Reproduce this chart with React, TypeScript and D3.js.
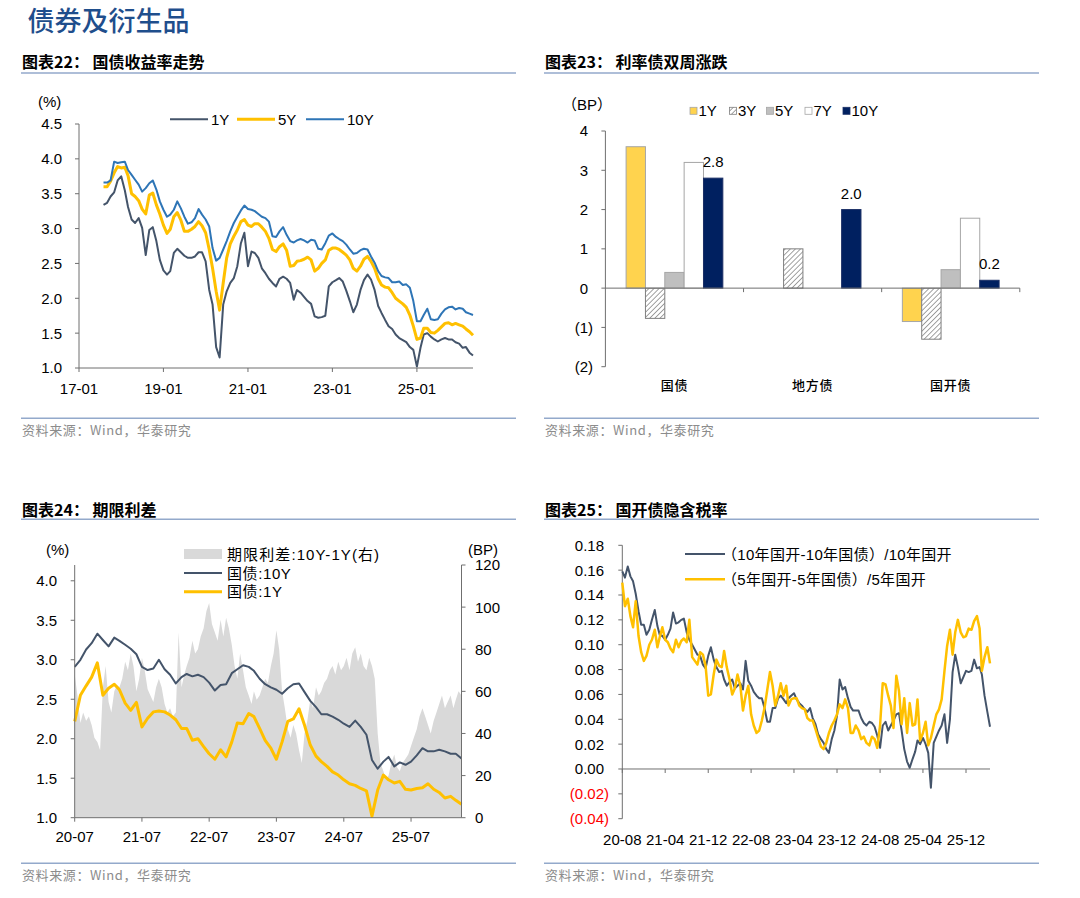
import React, { useEffect } from "react";
import * as d3 from "d3";

// ---------- 图表22：国债收益率走势（月度，自 2017-08 起）
const yieldAxisStart = "2017-01-01";
const yieldStart = "2017-08-01";
const yieldTicks = ["2017-01-01", "2019-01-01", "2021-01-01", "2023-01-01", "2025-01-01"];
const cgb1Y = [
  3.34, 3.37, 3.46, 3.52, 3.69,
  3.75, 3.55, 3.31, 3.13, 3.08, 3.15, 3.01, 2.62, 2.98, 3.02, 2.82, 2.55,
  2.40, 2.34, 2.39, 2.65, 2.71, 2.66, 2.61, 2.58, 2.58, 2.60, 2.66, 2.66,
  2.53, 2.12, 1.91, 1.30, 1.15, 1.91, 2.10, 2.22, 2.29, 2.46, 2.79, 2.94,
  2.46, 2.67, 2.65, 2.58, 2.43, 2.36, 2.28, 2.22, 2.17, 2.28, 2.31, 2.28,
  2.22, 1.98, 2.12, 2.08, 2.02, 1.96, 1.92, 1.74, 1.72, 1.73, 1.75, 2.17,
  2.23, 2.26, 2.29, 2.24, 2.11, 1.96, 1.80, 1.91, 2.12, 2.26, 2.34, 2.27,
  2.12, 1.89, 1.79, 1.69, 1.60, 1.56, 1.48, 1.43, 1.40, 1.37, 1.30, 1.26,
  1.02, 1.29, 1.48, 1.50, 1.45, 1.41, 1.38, 1.41, 1.43, 1.41, 1.41, 1.37,
  1.35, 1.29, 1.30, 1.22, 1.18,
];
const cgb5Y = [
  3.60, 3.60, 3.68, 3.80, 3.89,
  3.87, 3.88, 3.76, 3.50, 3.46, 3.40, 3.28, 3.21, 3.48, 3.51, 3.34, 3.21,
  3.05, 2.93, 2.99, 3.17, 3.23, 3.12, 2.96, 2.96, 2.99, 3.03, 3.10, 3.04,
  2.94, 2.70, 2.43, 2.10, 1.83, 2.22, 2.58, 2.78, 2.89, 2.98, 3.10, 3.13,
  3.05, 3.03, 3.07, 3.07, 3.02, 2.96, 2.86, 2.70, 2.67, 2.74, 2.78, 2.69,
  2.46, 2.47, 2.53, 2.54, 2.56, 2.59, 2.55, 2.39, 2.43, 2.50, 2.55, 2.69,
  2.72, 2.72, 2.70, 2.66, 2.62, 2.55, 2.43, 2.39, 2.46, 2.56, 2.60, 2.53,
  2.43, 2.28, 2.19, 2.16, 2.15, 2.08, 2.00, 1.96, 1.92, 1.87, 1.76, 1.60,
  1.41, 1.43, 1.57, 1.57, 1.51, 1.50, 1.54, 1.59, 1.64, 1.65, 1.62, 1.64,
  1.62, 1.60, 1.56, 1.52, 1.47,
];
const cgb10Y = [
  3.66, 3.66, 3.69, 3.96, 3.94,
  3.95, 3.96, 3.84, 3.77, 3.70, 3.63, 3.53, 3.58, 3.65, 3.69, 3.56, 3.39,
  3.27, 3.17, 3.20, 3.27, 3.39, 3.29, 3.17, 3.07, 3.09, 3.15, 3.28, 3.20,
  3.13, 3.03, 2.72, 2.54, 2.58, 2.70, 2.82, 2.96, 3.08, 3.17, 3.26, 3.33,
  3.28, 3.27, 3.25, 3.21, 3.17, 3.15, 3.10, 2.89, 2.88, 2.96, 3.02, 2.91,
  2.82, 2.80, 2.83, 2.85, 2.83, 2.80, 2.84, 2.83, 2.71, 2.70, 2.79, 2.90,
  2.93, 2.88, 2.85, 2.82, 2.77, 2.70, 2.64, 2.65, 2.69, 2.71, 2.70, 2.60,
  2.51, 2.39, 2.32, 2.30, 2.29, 2.23, 2.23, 2.24, 2.19, 2.20, 2.15, 1.96,
  1.67, 1.67, 1.76, 1.85, 1.70, 1.69, 1.70, 1.78, 1.84, 1.87, 1.88, 1.84,
  1.86, 1.85, 1.80, 1.78, 1.76,
];

// ---------- 图表23：利率债双周涨跌（BP）
const bondTypes = ["国债", "地方债", "国开债"];
const tenors = ["1Y", "3Y", "5Y", "7Y", "10Y"];
const chg1Y = [3.6, null, -0.85];
const chg3Y = [-0.77, 1.0, -1.3];
const chg5Y = [0.4, null, 0.47];
const chg7Y = [3.2, null, 1.78];
const chg10Y = [2.8, 2.0, 0.2];

// ---------- 图表24：期限利差（线为月度，利差为半月度，自 2020-07 起）
const spreadStart = "2020-07-01";
const spreadTicks = ["2020-07-01", "2021-07-01", "2022-07-01", "2023-07-01", "2024-07-01", "2025-07-01"];
const term10Y = [
  2.91, 3.00, 3.13, 3.21, 3.33, 3.25,
  3.17, 3.28, 3.24, 3.19, 3.14, 3.07, 2.91, 2.87, 2.89, 3.00, 2.88, 2.81,
  2.70, 2.78, 2.82, 2.79, 2.81, 2.78, 2.71, 2.61, 2.68, 2.69, 2.83, 2.88,
  2.93, 2.91, 2.86, 2.76, 2.69, 2.65, 2.62, 2.57, 2.64, 2.69, 2.70, 2.59,
  2.48, 2.40, 2.31, 2.31, 2.28, 2.24, 2.19, 2.15, 2.23, 2.15, 2.05, 1.73,
  1.62, 1.71, 1.77, 1.65, 1.70, 1.67, 1.71, 1.79, 1.88, 1.84, 1.84, 1.86,
  1.84, 1.81, 1.81, 1.75,
];
const term1Y = [
  2.22, 2.55, 2.67, 2.78, 2.96, 2.55,
  2.64, 2.69, 2.62, 2.45, 2.36, 2.46, 2.15, 2.26, 2.34, 2.35, 2.34, 2.30,
  2.24, 2.13, 2.13, 1.98, 2.00, 1.90, 1.81, 1.74, 1.86, 1.77, 1.96, 2.20,
  2.19, 2.32, 2.28, 2.13, 1.98, 1.88, 1.74, 1.96, 2.22, 2.25, 2.38, 2.17,
  1.92, 1.78, 1.71, 1.65, 1.58, 1.54, 1.48, 1.43, 1.41, 1.37, 1.34, 1.02,
  1.35, 1.54, 1.48, 1.44, 1.46, 1.36, 1.35, 1.37, 1.38, 1.43, 1.36, 1.32,
  1.25, 1.27, 1.22, 1.17,
];
const termSpreadBP = [
  68, 58, 45, 50, 46, 48, 44, 38, 36, 32, 62, 72,
  55, 50, 60, 63, 62, 66, 74, 70, 78, 72, 60, 66, 76, 70, 61, 58, 55, 62, 66, 62, 54, 50, 52, 48,
  50, 88, 62, 68, 72, 76, 84, 78, 80, 86, 90, 98, 102, 92, 88, 84, 94, 86, 95, 90, 82, 72, 66, 78,
  70, 62, 58, 54, 60, 56, 58, 62, 66, 64, 72, 78, 89, 80, 60, 52, 42, 38, 44, 40, 32, 26, 40, 46,
  56, 52, 62, 58, 60, 64, 66, 70, 72, 68, 74, 70, 72, 76, 70, 78, 81, 74, 78, 72, 70, 76, 72, 66,
  40, 26, 22, 18, 20, 26, 30, 24, 22, 26, 28, 30, 34, 38, 42, 48, 52, 48, 44, 40, 46, 50, 54, 58,
  52, 55, 58, 52, 56, 60, 58,
];

// ---------- 图表25：国开债隐含税率（半月度，自 2020-08 起）
const taxStart = "2020-08-01";
const taxTicks = ["2020-08-01", "2021-04-01", "2021-12-01", "2022-08-01", "2023-04-01", "2023-12-01", "2024-08-01", "2025-04-01", "2025-12-01"];
const taxRate10Y = [
  0.159, 0.154, 0.163, 0.155, 0.151, 0.141, 0.127, 0.116, 0.116, 0.108,
  0.112, 0.120, 0.128, 0.115, 0.108, 0.107, 0.104, 0.108, 0.113, 0.126,
  0.117, 0.118, 0.120, 0.121, 0.110, 0.104, 0.100, 0.096, 0.092, 0.091,
  0.084, 0.081, 0.091, 0.098, 0.088, 0.082, 0.078, 0.079, 0.072, 0.067,
  0.070, 0.072, 0.065, 0.067, 0.069, 0.064, 0.087, 0.071, 0.067, 0.062,
  0.059, 0.057, 0.057, 0.049, 0.038, 0.038, 0.049, 0.049, 0.057, 0.059,
  0.056, 0.053, 0.057, 0.059, 0.061, 0.056, 0.053, 0.051, 0.048, 0.046,
  0.049, 0.041, 0.036, 0.028, 0.024, 0.021, 0.016, 0.013, 0.024, 0.031,
  0.043, 0.072, 0.064, 0.066, 0.057, 0.050, 0.047, 0.047, 0.047, 0.041,
  0.037, 0.035, 0.038, 0.037, 0.034, 0.027, 0.017, 0.035, 0.038, 0.031,
  0.035, 0.039, 0.044, 0.045, 0.031, 0.016, 0.006, 0.001, 0.008, 0.014,
  0.023, 0.020, 0.025, 0.020, 0.013, -0.015, 0.021, 0.026, 0.031, 0.035,
  0.044, 0.021, 0.040, 0.078, 0.092, 0.082, 0.069, 0.074, 0.079, 0.078,
  0.079, 0.088, 0.081, 0.082, 0.076, 0.059, 0.046, 0.034,
];
const taxRate5Y = [
  0.150, 0.131, 0.137, 0.123, 0.114, 0.135, 0.107, 0.094, 0.087, 0.091,
  0.100, 0.104, 0.112, 0.098, 0.106, 0.114, 0.104, 0.102, 0.097, 0.094,
  0.104, 0.098, 0.103, 0.105, 0.102, 0.120, 0.090, 0.087, 0.084, 0.094,
  0.092, 0.083, 0.059, 0.060, 0.076, 0.088, 0.083, 0.082, 0.095, 0.082,
  0.072, 0.060, 0.065, 0.076, 0.067, 0.047, 0.059, 0.067, 0.044, 0.035,
  0.029, 0.031, 0.039, 0.049, 0.064, 0.078, 0.067, 0.051, 0.059, 0.069,
  0.059, 0.067, 0.051, 0.056, 0.057, 0.057, 0.051, 0.049, 0.048, 0.041,
  0.039, 0.039, 0.032, 0.025, 0.018, 0.016, 0.021, 0.029, 0.035, 0.039,
  0.044, 0.052, 0.049, 0.056, 0.049, 0.029, 0.029, 0.035, 0.031, 0.024,
  0.026, 0.021, 0.019, 0.026, 0.024, 0.017, 0.035, 0.069, 0.068, 0.059,
  0.051, 0.033, 0.075, 0.063, 0.036, 0.057, 0.029, 0.053, 0.035, 0.036,
  0.056, 0.023, 0.029, 0.038, 0.019, 0.025, 0.035, 0.044, 0.048, 0.056,
  0.079, 0.099, 0.112, 0.092, 0.110, 0.120, 0.110, 0.106, 0.107, 0.113,
  0.112, 0.119, 0.123, 0.113, 0.079, 0.090, 0.098, 0.085,
];

const SANS = "'Liberation Sans', Arial, 'Noto Sans CJK SC', sans-serif";
const CJK = "'Noto Sans CJK SC', 'Liberation Sans', sans-serif";
const AXIS = "#6f6f6f";
const SLATE = "#44546A";
const GOLD = "#FFC000";
const RULE = "#93A9CB";

const parse = d3.timeParse("%Y-%m-%d");
const monthly = (start: string, n: number) =>
  d3.range(n).map((i) => d3.timeMonth.offset(parse(start)!, i));
const halfMonthly = (start: string, n: number) =>
  d3.range(n).map((i) => {
    const m = d3.timeMonth.offset(parse(start)!, Math.floor(i / 2));
    return i % 2 ? d3.timeDay.offset(m, 15) : m;
  });
const fmtMonth = d3.timeFormat("%y-%m");
const paren = (v: number, digits: number) =>
  v < 0 ? `(${Math.abs(v).toFixed(digits)})` : v.toFixed(digits);

function Panel({ x0, x1, titleY, ruleY, srcRuleY, srcY, title }: any) {
  return (
    <g>
      <text x={x0 + 1} y={titleY} fontFamily={CJK} fontWeight={700} fontSize={16}>
        {title}
      </text>
      <line x1={x0} x2={x1} y1={ruleY} y2={ruleY} stroke={RULE} strokeWidth={1.6} />
      <line x1={x0} x2={x1} y1={srcRuleY} y2={srcRuleY} stroke={RULE} strokeWidth={1.6} />
      <text x={x0 + 1} y={srcY} fontFamily={CJK} fontSize={13} fill="#8c8c8c" letterSpacing={0.6}>
        资料来源：Wind，华泰研究
      </text>
    </g>
  );
}

function YieldTrend() {
  const dates = monthly(yieldStart, cgb10Y.length);
  const x = d3.scaleTime().domain([parse(yieldAxisStart)!, dates[dates.length - 1]]).range([79, 473]);
  const y = d3.scaleLinear().domain([1, 4.5]).range([368, 124]);
  const path = (vals: number[]) =>
    d3.line<number>().x((_, i) => x(dates[i])).y((v) => y(v))(vals) || "";
  const legend = [
    { name: "1Y", color: SLATE, w: 2, x: 170 },
    { name: "5Y", color: GOLD, w: 3, x: 237 },
    { name: "10Y", color: "#2E75B6", w: 2, x: 306 },
  ];
  return (
    <g fontFamily={SANS} fontSize={15}>
      <text x={38} y={107}>(%)</text>
      {legend.map((l) => (
        <g key={l.name}>
          <line x1={l.x} x2={l.x + 38} y1={119.3} y2={119.3} stroke={l.color} strokeWidth={l.w} />
          <text x={l.x + 41} y={124.7}>{l.name}</text>
        </g>
      ))}
      <line x1={79} x2={79} y1={124} y2={368} stroke={AXIS} />
      <line x1={79} x2={473} y1={368} y2={368} stroke={AXIS} />
      {y.ticks(7).map((t) => (
        <g key={t}>
          <line x1={75} x2={79} y1={y(t)} y2={y(t)} stroke={AXIS} />
          <text x={62} y={y(t) + 5.4} textAnchor="end">{t.toFixed(1)}</text>
        </g>
      ))}
      {yieldTicks.map((s) => {
        const d = parse(s)!;
        return (
          <g key={s}>
            <line x1={x(d)} x2={x(d)} y1={368} y2={372} stroke={AXIS} />
            <text x={x(d)} y={393.5} textAnchor="middle">{fmtMonth(d)}</text>
          </g>
        );
      })}
      <path d={path(cgb1Y)} fill="none" stroke={SLATE} strokeWidth={2} strokeLinejoin="round" />
      <path d={path(cgb5Y)} fill="none" stroke={GOLD} strokeWidth={3} strokeLinejoin="round" />
      <path d={path(cgb10Y)} fill="none" stroke="#2E75B6" strokeWidth={2} strokeLinejoin="round" />
    </g>
  );
}

function BiweeklyChange() {
  const x0 = d3.scaleBand<string>().domain(bondTypes).range([605.4, 1019.8]);
  const x1 = d3.scaleBand<string>().domain(tenors).range([0, x0.bandwidth()]).paddingOuter(1.07);
  const y = d3.scaleLinear().domain([-2, 4]).range([366.7, 131]);
  const series = [chg1Y, chg3Y, chg5Y, chg7Y, chg10Y];
  const fills = ["#FFD34E", "url(#hatch23)", "#BFBFBF", "#FFFFFF", "#002060"];
  const strokes = ["#A6A6A6", "#7F7F7F", "#A6A6A6", "#A6A6A6", "#1B2F66"];
  const legendX = [690, 729.4, 766.5, 805, 843];
  const zero = y(0);
  return (
    <g fontFamily={SANS} fontSize={15}>
      <defs>
        <pattern id="hatch23" width={3.6} height={3.6} patternUnits="userSpaceOnUse" patternTransform="rotate(45)">
          <rect width={3.6} height={3.6} fill="#fff" />
          <line x1={0} y1={0} x2={0} y2={3.6} stroke="#555" strokeWidth={1.1} />
        </pattern>
      </defs>
      <text x={562} y={109.6}>（BP）</text>
      {tenors.map((t, i) => (
        <g key={t}>
          <rect x={legendX[i]} y={107.3} width={7} height={7} fill={fills[i]} stroke={strokes[i]} strokeWidth={0.8} />
          <text x={legendX[i] + 8.5} y={116.2}>{t}</text>
        </g>
      ))}
      {series.map((vals, si) =>
        vals.map((v, ci) => {
          if (v === null) return null;
          const bx = x0(bondTypes[ci])! + x1(tenors[si])!;
          return (
            <rect
              key={`${si}-${ci}`}
              x={bx}
              y={Math.min(y(v), zero)}
              width={x1.bandwidth()}
              height={Math.abs(y(v) - zero)}
              fill={fills[si]}
              stroke={strokes[si]}
              strokeWidth={1}
            />
          );
        })
      )}
      {chg10Y.map((v, ci) => (
        <text
          key={ci}
          x={x0(bondTypes[ci])! + x1("10Y")! + x1.bandwidth() / 2}
          y={y(v) - 11}
          textAnchor="middle"
        >
          {v.toFixed(1)}
        </text>
      ))}
      <line x1={605.4} x2={605.4} y1={131} y2={366.7} stroke={AXIS} />
      {y.ticks(6).map((t) => (
        <g key={t}>
          <line x1={601.4} x2={605.4} y1={y(t)} y2={y(t)} stroke={AXIS} />
          <text x={t < 0 ? 593 : 588} y={y(t) + 5.4} textAnchor="end">{paren(t, 0)}</text>
        </g>
      ))}
      <line x1={605.4} x2={1019.8} y1={zero} y2={zero} stroke={AXIS} />
      {bondTypes.map((c) => (
        <g key={c}>
          <line x1={x0(c)! + x0.bandwidth()} x2={x0(c)! + x0.bandwidth()} y1={zero} y2={zero + 4} stroke={AXIS} />
          <text x={x0(c)! + x0.bandwidth() / 2} y={390} textAnchor="middle" fontFamily={CJK} fontSize={13} fontWeight={500} letterSpacing={0.8}>
            {c}
          </text>
        </g>
      ))}
    </g>
  );
}

function TermSpread() {
  const lineDates = monthly(spreadStart, term10Y.length);
  const areaDates = halfMonthly(spreadStart, termSpreadBP.length);
  const x = d3.scaleTime().domain([parse(spreadStart)!, lineDates[lineDates.length - 1]]).range([74.7, 461.5]);
  const yL = d3.scaleLinear().domain([1, 4.2]).range([817.7, 565]);
  const yR = d3.scaleLinear().domain([0, 120]).range([817.7, 565]);
  const path = (vals: number[]) =>
    d3.line<number>().x((_, i) => x(lineDates[i])).y((v) => yL(v))(vals) || "";
  const area =
    d3.area<number>().x((_, i) => x(areaDates[i])).y0(yR(0)).y1((v) => yR(v))(termSpreadBP) || "";
  return (
    <g fontFamily={SANS} fontSize={15}>
      <path d={area} fill="#D9D9D9" />
      <path d={path(term10Y)} fill="none" stroke={SLATE} strokeWidth={2} strokeLinejoin="round" />
      <path d={path(term1Y)} fill="none" stroke={GOLD} strokeWidth={3} strokeLinejoin="round" />
      <text x={46} y={554.7}>(%)</text>
      <text x={468} y={554.7}>(BP)</text>
      <rect x={184} y={549} width={38} height={10} fill="#D9D9D9" />
      <text x={227} y={559.6} letterSpacing={1.1}>期限利差:10Y-1Y(右)</text>
      <line x1={184} x2={222} y1={573} y2={573} stroke={SLATE} strokeWidth={2} />
      <text x={227} y={578.6} letterSpacing={0.6}>国债:10Y</text>
      <line x1={184} x2={222} y1={591.7} y2={591.7} stroke={GOLD} strokeWidth={3} />
      <text x={227} y={597.3} letterSpacing={0.6}>国债:1Y</text>
      <line x1={74.7} x2={74.7} y1={565} y2={817.7} stroke={AXIS} />
      <line x1={461.5} x2={461.5} y1={565} y2={817.7} stroke={AXIS} />
      <line x1={74.7} x2={461.5} y1={817.7} y2={817.7} stroke={AXIS} />
      {yL.ticks(7).map((t) => (
        <g key={t}>
          <line x1={70.7} x2={74.7} y1={yL(t)} y2={yL(t)} stroke={AXIS} />
          <text x={57} y={yL(t) + 5.4} textAnchor="end">{t.toFixed(1)}</text>
        </g>
      ))}
      {yR.ticks(6).map((t) => (
        <g key={t}>
          <line x1={461.5} x2={465.5} y1={yR(t)} y2={yR(t)} stroke={AXIS} />
          <text x={475} y={yR(t) + 5.4}>{t}</text>
        </g>
      ))}
      {spreadTicks.map((s) => {
        const d = parse(s)!;
        return (
          <g key={s}>
            <line x1={x(d)} x2={x(d)} y1={817.7} y2={821.7} stroke={AXIS} />
            <text x={x(d)} y={842} textAnchor="middle">{fmtMonth(d)}</text>
          </g>
        );
      })}
    </g>
  );
}

function ImpliedTax() {
  const dates = halfMonthly(taxStart, taxRate10Y.length);
  const x = d3.scaleTime().domain([parse(taxStart)!, dates[dates.length - 1]]).range([622.3, 990]);
  const y = d3.scaleLinear().domain([-0.04, 0.18]).range([818.7, 545.3]);
  const path = (vals: number[]) =>
    d3.line<number>().x((_, i) => x(dates[i])).y((v) => y(v))(vals) || "";
  const zero = y(0);
  return (
    <g fontFamily={SANS} fontSize={15}>
      <line x1={622.3} x2={622.3} y1={545.3} y2={818.7} stroke={AXIS} />
      {y.ticks(11).map((t) => (
        <g key={t}>
          <line x1={618.3} x2={622.3} y1={y(t)} y2={y(t)} stroke={AXIS} />
          <text x={t < -1e-9 ? 609 : 604} y={y(t) + 5.4} textAnchor="end" fill={t < -1e-9 ? "#FF0000" : "#000"}>
            {paren(Math.abs(t) < 1e-9 ? 0 : t, 2)}
          </text>
        </g>
      ))}
      <line x1={622.3} x2={990} y1={zero} y2={zero} stroke={AXIS} />
      {taxTicks.map((s) => {
        const d = parse(s)!;
        return (
          <g key={s}>
            <line x1={x(d)} x2={x(d)} y1={zero} y2={zero + 4} stroke={AXIS} />
            <text x={x(d)} y={844.7} textAnchor="middle">{fmtMonth(d)}</text>
          </g>
        );
      })}
      <path d={path(taxRate10Y)} fill="none" stroke={SLATE} strokeWidth={2} strokeLinejoin="round" />
      <path d={path(taxRate5Y)} fill="none" stroke={GOLD} strokeWidth={2.5} strokeLinejoin="round" />
      <line x1={685} x2={725} y1={554} y2={554} stroke={SLATE} strokeWidth={2} />
      <text x={722} y={559.6} letterSpacing={0.3}>（10年国开-10年国债）/10年国开</text>
      <line x1={685} x2={725} y1={579.3} y2={579.3} stroke={GOLD} strokeWidth={2.5} />
      <text x={722} y={584.9} letterSpacing={0.3}>（5年国开-5年国债）/5年国开</text>
    </g>
  );
}

export default function App() {
  useEffect(() => {
    document.body.style.margin = "0";
  }, []);
  return (
    <svg
      width={1080}
      height={898}
      viewBox="0 0 1080 898"
      style={{ position: "absolute", left: 0, top: 0, background: "#fff" }}
    >
      <rect width={1080} height={898} fill="#fff" />
      <text x={27.5} y={31} fontFamily={CJK} fontSize={27} fontWeight={500} fill="#1F4E8C">
        债券及衍生品
      </text>
      <Panel x0={21} x1={516} titleY={68.4} ruleY={73} srcRuleY={418.3} srcY={434.8} title="图表22： 国债收益率走势" />
      <Panel x0={544} x1={1039} titleY={68.4} ruleY={73} srcRuleY={418.3} srcY={434.8} title="图表23： 利率债双周涨跌" />
      <Panel x0={21} x1={516} titleY={515.9} ruleY={519.3} srcRuleY={863.3} srcY={879.8} title="图表24： 期限利差" />
      <Panel x0={544} x1={1039} titleY={515.9} ruleY={519.3} srcRuleY={863.3} srcY={879.8} title="图表25： 国开债隐含税率" />
      <YieldTrend />
      <BiweeklyChange />
      <TermSpread />
      <ImpliedTax />
    </svg>
  );
}
